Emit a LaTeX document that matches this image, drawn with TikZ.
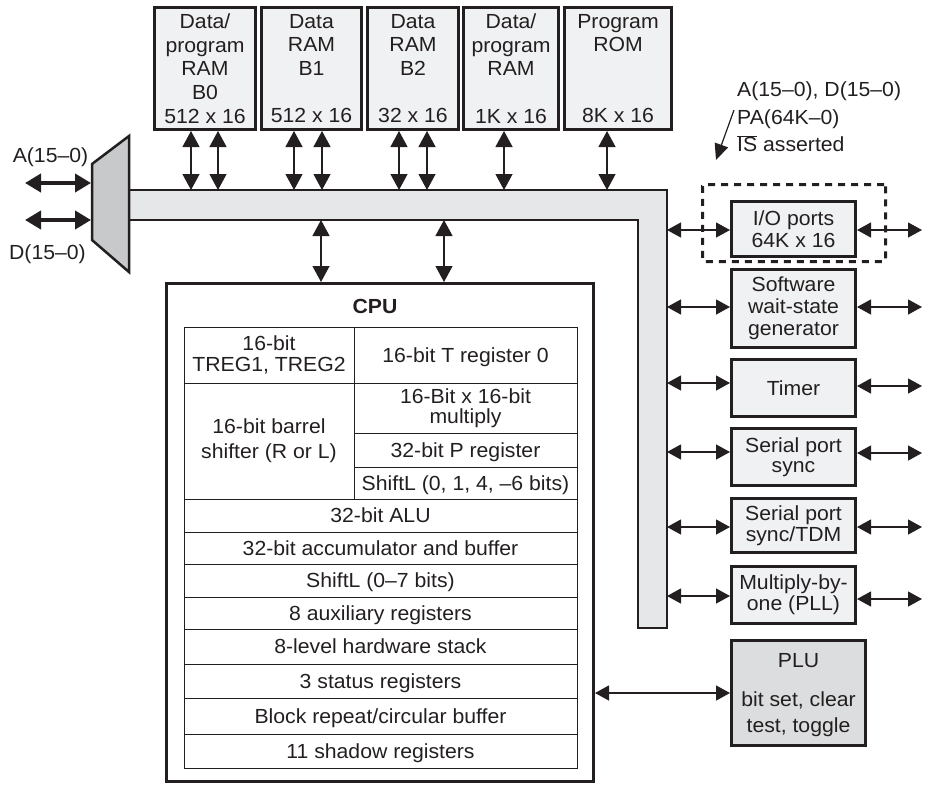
\documentclass[tikz,border=0pt]{standalone}
\usepackage{fontspec}
\setmainfont[FakeStretch=1.04]{Liberation Sans}
\usetikzlibrary{arrows.meta,calc}
\definecolor{ink}{HTML}{231F20}
\definecolor{boxfill}{HTML}{F0F1F2}
\definecolor{busfill}{HTML}{E6E7E8}
\definecolor{muxfill}{HTML}{C8C9CB}
\definecolor{plufill}{HTML}{DCDDDE}
\begin{document}
\begin{tikzpicture}[x=1pt,y=-1pt,
  every node/.style={font=\fontsize{20.4}{23.7}\selectfont, text=ink},
  membox/.style={draw=ink, line width=3pt, fill=boxfill, inner sep=0pt, align=center, minimum height=122pt},
  iobox/.style={draw=ink, line width=3pt, fill=boxfill, inner sep=0pt, align=center, minimum width=124pt, font=\fontsize{20.4}{22}\selectfont},
  cell/.style={draw=ink, line width=0.9pt, inner sep=0pt, align=center, font=\fontsize{20.4}{21.5}\selectfont},
  oneline/.style={text height=14.6pt, text depth=0pt},
  bi/.style={draw=ink, line width=1.2pt, {Triangle[length=14pt,width=15pt]}-{Triangle[length=14pt,width=15pt]}},
  bim/.style={draw=ink, line width=1.2pt, {Triangle[length=16pt,width=17pt]}-{Triangle[length=16pt,width=17pt]}},
  bithick/.style={draw=ink, line width=4.5pt, {Triangle[length=16pt,width=18pt]}-{Triangle[length=16pt,width=18pt]}},
  pointer/.style={draw=ink, line width=1.2pt, -{Triangle[length=16pt,width=14pt]}}
]
\useasboundingbox (0,0) rectangle (925,785);

% bus
\fill[busfill] (130,190) -- (667,190) -- (667,628) -- (638,628) -- (638,220) -- (130,220) -- cycle;
\draw[ink, line width=1.1pt] (130,190) -- (667,190) -- (667,628) -- (638,628) -- (638,220) -- (130,220);
\coordinate (bustop) at (0,190);
\coordinate (busbot) at (0,220);
\coordinate (busR) at (667,0);
\coordinate (farR) at (922,0);

% multiplexer
\filldraw[fill=muxfill, draw=ink, line width=2.5pt, line join=miter] (92,164) -- (129,136) -- (129,272) -- (92,240) -- cycle;
\coordinate (muxA) at (91,183);
\coordinate (muxD) at (91,220);
\coordinate (extA) at (25,183);
\coordinate (extD) at (25,220);
\draw[bithick] (extA) -- (muxA);
\draw[bithick] (extD) -- (muxD);
\node[oneline, inner sep=0pt] (alab) at (50.5,155) {A(15–0)};
\node[oneline, inner sep=0pt] (dlab) at (47.5,252) {D(15–0)};

% memory blocks
\node[membox, minimum width=101pt] (b0) at (205,68.5) {Data/\\program\\RAM\\B0\\512 x 16};
\node[membox, minimum width=100pt] (b1) at (311.5,68.5) {Data\\RAM\\B1\\~\\512 x 16};
\node[membox, minimum width=91pt] (b2) at (413,68.5) {Data\\RAM\\B2\\~\\32 x 16};
\node[membox, minimum width=95pt] (ram) at (511,68.5) {Data/\\program\\RAM\\~\\1K x 16};
\node[membox, minimum width=107pt] (rom) at (618,68.5) {Program\\ROM\\~\\~\\8K x 16};

\coordinate (m1) at ([xshift=-14pt]b0.south);
\coordinate (m2) at ([xshift=13pt]b0.south);
\coordinate (m3) at ([xshift=-17.5pt]b1.south);
\coordinate (m4) at ([xshift=10.5pt]b1.south);
\coordinate (m5) at ([xshift=-14pt]b2.south);
\coordinate (m6) at ([xshift=14pt]b2.south);
\coordinate (m7) at ([xshift=-7pt]ram.south);
\coordinate (m8) at ([xshift=-11pt]rom.south);
\foreach \m in {m1,m2,m3,m4,m5,m6,m7,m8}{
  \draw[bim] (\m) -- (\m |- bustop);
}

% CPU
\node[draw=ink, line width=3pt, inner sep=0pt, minimum width=427pt, minimum height=498pt] (cpu) at (380,532.5) {};
\node[font=\bfseries\fontsize{20.4}{24}\selectfont, oneline, inner sep=0pt] (cputitle) at (375,306) {CPU};
\coordinate (c1) at ([xshift=-59pt]cpu.north);
\coordinate (c2) at ([xshift=64pt]cpu.north);
\draw[bim] (c1 |- busbot) -- (c1);
\draw[bim] (c2 |- busbot) -- (c2);

% CPU table
\node[cell, minimum width=170pt, minimum height=56pt] (treg) at (269,355) {16-bit\\TREG1, TREG2};
\node[cell, oneline, minimum width=223pt, minimum height=56pt] (treg0) at (465.5,355) {16-bit T register 0};
\node[cell, minimum width=170pt, minimum height=116pt, font=\fontsize{20.4}{25}\selectfont] (barrel) at (269,441) {16-bit barrel\\shifter (R or L)};
\node[cell, minimum width=223pt, minimum height=50pt, font=\fontsize{20.4}{20.5}\selectfont] (mult) at (465.5,408) {16-Bit x 16-bit\\multiply};
\node[cell, oneline, minimum width=223pt, minimum height=34pt] (preg) at (465.5,450) {32-bit P register};
\node[cell, oneline, minimum width=223pt, minimum height=32pt] (shl) at (465.5,483) {ShiftL (0, 1, 4, –6 bits)};
\node[cell, oneline, minimum width=393pt, minimum height=33pt] (alu) at (380.5,515.5) {32-bit ALU};
\node[cell, oneline, minimum width=393pt, minimum height=32pt] (acc) at (380.5,548) {32-bit accumulator and buffer};
\node[cell, oneline, minimum width=393pt, minimum height=33pt] (shl2) at (380.5,580.5) {ShiftL (0–7 bits)};
\node[cell, oneline, minimum width=393pt, minimum height=32pt] (aux) at (380.5,613) {8 auxiliary registers};
\node[cell, oneline, minimum width=393pt, minimum height=35pt] (stack) at (380.5,646.5) {8-level hardware stack};
\node[cell, oneline, minimum width=393pt, minimum height=34pt] (status) at (380.5,681) {3 status registers};
\node[cell, oneline, minimum width=393pt, minimum height=36pt] (block) at (380.5,716) {Block repeat/circular buffer};
\node[cell, oneline, minimum width=393pt, minimum height=34pt] (shadow) at (380.5,751) {11 shadow registers};

% I/O annotation
\node[anchor=north west, inner sep=0pt, align=left, font=\fontsize{20.4}{27.5}\selectfont] (note) at (737,82) {A(15–0), D(15–0)\\PA(64K–0)\\$\overline{\mbox{IS}}$ asserted};
\coordinate (nstart) at (734,110);
\coordinate (nend) at (716,160);
\draw[pointer] (nstart) -- (nend);

% peripherals
\node[draw=ink, line width=3pt, dash pattern=on 7pt off 6pt, rounded corners=1.5pt, inner sep=0pt, minimum width=183pt, minimum height=77pt] (iogroup) at (794,223) {};
\node[iobox, minimum height=55pt] (io) at (793.5,229) {I/O ports\\64K x 16};
\node[iobox, minimum height=78pt] (sw) at (793.5,308.5) {Software\\wait-state\\generator};
\node[iobox, oneline, minimum height=57pt] (timer) at (793.5,388) {Timer};
\node[iobox, minimum height=57pt, font=\fontsize{20.4}{20.5}\selectfont] (sp1) at (793.5,457) {Serial port\\sync};
\node[iobox, minimum height=54pt, font=\fontsize{20.4}{21}\selectfont] (sp2) at (793.5,525.5) {Serial port\\sync/TDM};
\node[iobox, minimum height=57pt, font=\fontsize{20.4}{21}\selectfont] (pll) at (793.5,595) {Multiply-by-\\one (PLL)};
\node[iobox, fill=plufill, minimum width=134pt, minimum height=105pt, text depth=0pt, font=\fontsize{20.4}{26}\selectfont] (plu) at (798.5,693) {PLU\\[13pt]bit set, clear\\test, toggle};

\coordinate (ioL) at ([yshift=-1pt]io.west);
\coordinate (ioR) at ([yshift=-1pt]io.east);
\coordinate (swL) at ([yshift=1.5pt]sw.west);
\coordinate (swR) at ([yshift=1.5pt]sw.east);
\coordinate (tL) at ([yshift=5pt]timer.west);
\coordinate (tR) at ([yshift=2pt]timer.east);
\coordinate (s1L) at ([yshift=5pt]sp1.west);
\coordinate (s1R) at ([yshift=4pt]sp1.east);
\coordinate (s2L) at ([yshift=-1.5pt]sp2.west);
\coordinate (s2R) at ([yshift=-1.5pt]sp2.east);
\coordinate (pL) at ([yshift=-1pt]pll.west);
\coordinate (pR) at ([yshift=-4pt]pll.east);
\foreach \l/\r in {ioL/ioR, swL/swR, tL/tR, s1L/s1R, s2L/s2R, pL/pR}{
  \draw[bi] (\l -| busR) -- (\l);
  \draw[bi] (\r) -- (\r -| farR);
}
\draw[bi] (plu.west -| cpu.east) -- (plu.west);
\end{tikzpicture}
\end{document}
